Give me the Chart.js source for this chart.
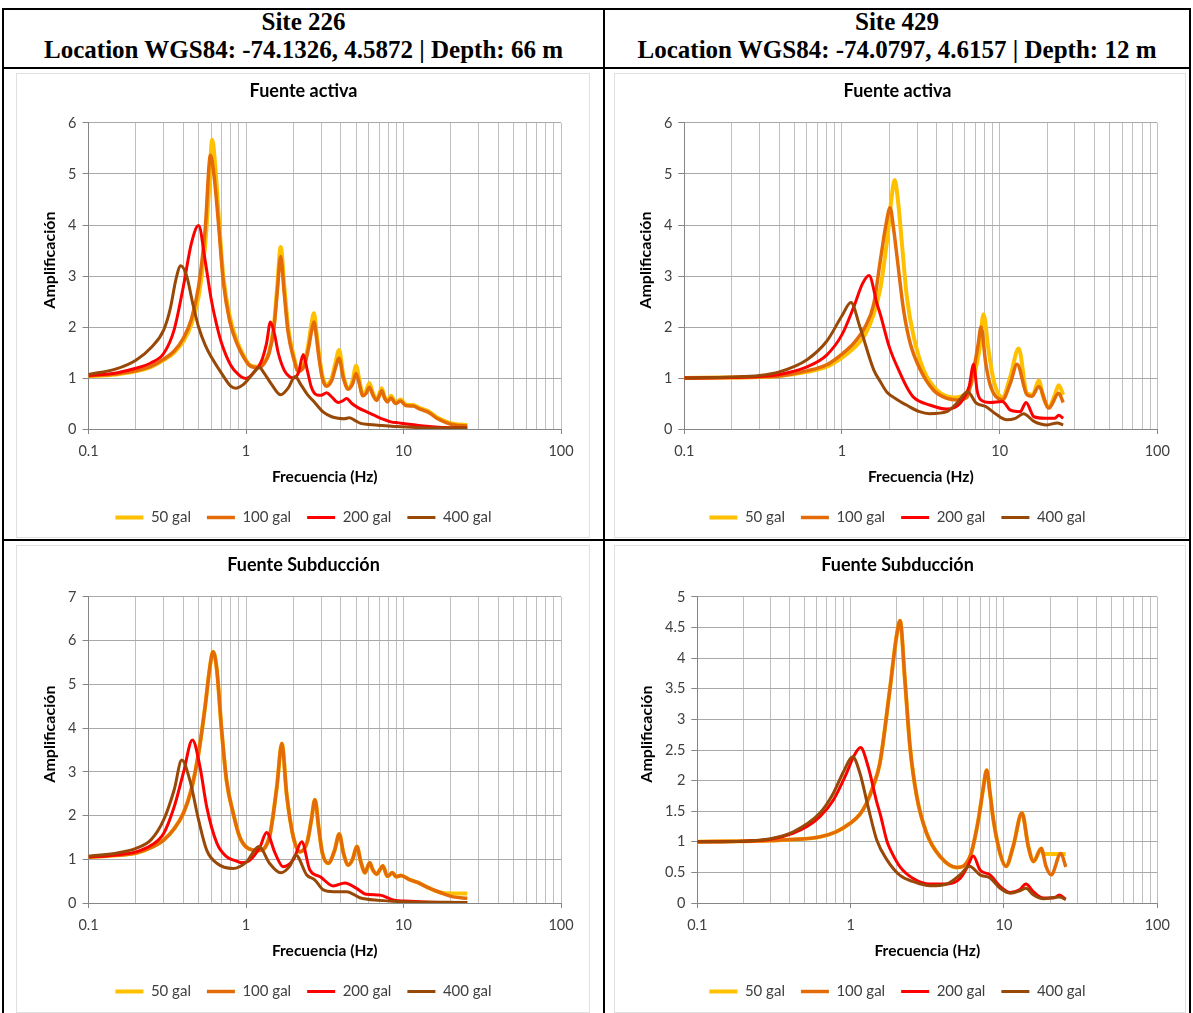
<!DOCTYPE html>
<html>
<head>
<meta charset="utf-8">
<script src="https://cdn.jsdelivr.net/npm/chart.js@4.4.1/dist/chart.umd.min.js"></script>
<style>
  html, body { margin: 0; padding: 0; background: #fff; }
  body { width: 1193px; height: 1013px; position: relative; overflow: hidden; }
  .rule { position: absolute; background: #000; }
  .head { position: absolute; top: 7.5px; height: 56px; font: bold 25px "Liberation Serif", "Times New Roman", serif;
          line-height: 28px; text-align: center; color: #000; white-space: nowrap; }
  .frame { position: absolute; border: 1px solid #e0e0e0; box-sizing: border-box; }
  canvas { position: absolute; }
</style>
</head>
<body>
<div class="rule" style="left:2px;top:8px;width:1189px;height:2px"></div>
<div class="rule" style="left:2px;top:8px;width:2px;height:1005px"></div>
<div class="rule" style="left:1189px;top:8px;width:2px;height:1005px"></div>
<div class="rule" style="left:603px;top:8px;width:2px;height:1005px"></div>
<div class="rule" style="left:2px;top:67px;width:1189px;height:2px"></div>
<div class="rule" style="left:2px;top:539px;width:1189px;height:2px"></div>

<div class="head" style="left:4px;width:599px">Site 226<br>Location WGS84: -74.1326, 4.5872 | Depth: 66 m</div>
<div class="head" style="left:605px;width:584px">Site 429<br>Location WGS84: -74.0797, 4.6157 | Depth: 12 m</div>

<div class="frame" style="left:16px;top:73px;width:574px;height:465px"></div>
<div class="frame" style="left:614px;top:73px;width:572px;height:465px"></div>
<div class="frame" style="left:16px;top:545px;width:574px;height:468px"></div>
<div class="frame" style="left:614px;top:545px;width:572px;height:468px"></div>

<canvas id="c226a" style="left:5px;top:70px" width="597" height="469"></canvas>
<canvas id="c429a" style="left:606px;top:70px" width="583" height="469"></canvas>
<canvas id="c226s" style="left:5px;top:543px" width="597" height="470"></canvas>
<canvas id="c429s" style="left:606px;top:543px" width="583" height="470"></canvas>

<script>
const seriesLabels = ["50 gal", "100 gal", "200 gal", "400 gal"];
const seriesColors = ["#FFC000", "#E36C09", "#FF0000", "#984807"];
const seriesWidths = [4, 3.5, 3, 3];
const gridFreqs = [0.1, 0.2, 0.3, 0.4, 0.5, 0.6, 0.7, 0.8, 0.9,
                   1, 2, 3, 4, 5, 6, 7, 8, 9,
                   10, 20, 30, 40, 50, 60, 70, 80, 90, 100];

// Site 226 - Fuente activa
const act226_f50 = [0.1, 0.15, 0.2, 0.25, 0.3, 0.35, 0.4, 0.45, 0.5, 0.55, 0.58, 0.61, 0.64, 0.67, 0.72, 0.79, 0.87, 0.95, 1.06, 1.2, 1.3, 1.4, 1.5, 1.58, 1.66, 1.75, 1.85, 2.0, 2.15, 2.35, 2.5, 2.6, 2.7, 2.8, 2.9, 3.05, 3.25, 3.5, 3.7, 3.9, 4.15, 4.46, 4.75, 5.0, 5.25, 5.5, 5.8, 6.07, 6.4, 6.76, 7.0, 7.27, 7.6, 7.9, 8.33, 8.9, 9.6, 10.3, 11.5, 12.5, 13.5, 14.7, 16.5, 18.8, 21, 25.4];
const act226_a50 = [1.03, 1.07, 1.13, 1.22, 1.35, 1.5, 1.72, 2.05, 2.6, 3.6, 4.6, 5.67, 5.1, 4.2, 2.95, 2.2, 1.75, 1.48, 1.25, 1.22, 1.3, 1.5, 2.0, 2.8, 3.57, 2.8, 2.0, 1.45, 1.15, 1.3, 1.7, 2.05, 2.27, 1.9, 1.5, 1.05, 0.87, 1.0, 1.3, 1.55, 1.05, 0.8, 0.95, 1.24, 0.95, 0.68, 0.75, 0.9, 0.7, 0.58, 0.68, 0.8, 0.62, 0.55, 0.65, 0.52, 0.58, 0.48, 0.47, 0.42, 0.38, 0.33, 0.22, 0.14, 0.1, 0.08];
const act226_f100 = [0.1, 0.15, 0.2, 0.25, 0.3, 0.35, 0.4, 0.45, 0.5, 0.55, 0.595, 0.63, 0.67, 0.72, 0.79, 0.87, 0.95, 1.06, 1.2, 1.3, 1.4, 1.5, 1.58, 1.66, 1.75, 1.85, 2.0, 2.15, 2.35, 2.5, 2.6, 2.7, 2.8, 2.9, 3.05, 3.25, 3.5, 3.7, 3.89, 4.15, 4.46, 4.75, 5.0, 5.25, 5.5, 5.8, 6.07, 6.4, 6.76, 7.0, 7.27, 7.6, 7.9, 8.33, 8.9, 9.6, 10.3, 11.5, 12.5, 13.5, 14.7, 16.5, 18.8, 21, 25.4];
const act226_a100 = [1.04, 1.08, 1.14, 1.23, 1.37, 1.53, 1.78, 2.15, 2.8, 3.9, 5.37, 4.9, 4.0, 2.85, 2.1, 1.7, 1.45, 1.24, 1.2, 1.28, 1.48, 1.95, 2.7, 3.38, 2.65, 1.9, 1.4, 1.13, 1.25, 1.6, 1.9, 2.1, 1.8, 1.42, 1.0, 0.84, 0.95, 1.2, 1.39, 1.0, 0.78, 0.88, 1.09, 0.88, 0.65, 0.7, 0.82, 0.66, 0.56, 0.64, 0.75, 0.6, 0.53, 0.61, 0.5, 0.55, 0.46, 0.45, 0.4, 0.36, 0.31, 0.2, 0.12, 0.08, 0.06];
const act226_f200 = [0.1, 0.15, 0.2, 0.25, 0.3, 0.35, 0.4, 0.45, 0.5, 0.55, 0.6, 0.65, 0.7, 0.8, 0.9, 1.0, 1.15, 1.25, 1.35, 1.43, 1.52, 1.6, 1.75, 1.9, 2.0, 2.15, 2.31, 2.45, 2.6, 2.81, 3.0, 3.25, 3.5, 3.85, 4.1, 4.35, 4.7, 5.2, 5.8, 6.5, 7.3, 8.3, 9.3, 10.5, 12.5, 14.7, 18, 25.4];
const act226_a200 = [1.05, 1.1, 1.19, 1.3, 1.48, 1.95, 2.79, 3.64, 3.99, 3.31, 2.56, 2.05, 1.68, 1.25, 1.06, 0.99, 1.15, 1.32, 1.68, 2.1, 1.85, 1.5, 1.15, 1.02, 1.0, 1.1, 1.46, 1.15, 0.82, 0.67, 0.66, 0.71, 0.63, 0.52, 0.55, 0.6, 0.5, 0.41, 0.34, 0.27, 0.2, 0.14, 0.12, 0.1, 0.07, 0.05, 0.03, 0.02];
const act226_f400 = [0.1, 0.15, 0.2, 0.25, 0.3, 0.33, 0.36, 0.385, 0.42, 0.46, 0.5, 0.55, 0.6, 0.7, 0.8, 0.86, 0.95, 1.05, 1.15, 1.215, 1.3, 1.45, 1.66, 1.85, 2.05, 2.25, 2.45, 2.73, 3.1, 3.5, 3.84, 4.2, 4.53, 4.9, 5.35, 6.0, 7.3, 9, 12, 16, 25.4];
const act226_a400 = [1.07, 1.18, 1.35, 1.6, 1.94, 2.35, 2.95, 3.2, 3.0, 2.45, 2.0, 1.65, 1.42, 1.09, 0.84, 0.8, 0.86, 1.0, 1.15, 1.21, 1.1, 0.88, 0.67, 0.8, 1.03, 0.85, 0.68, 0.52, 0.33, 0.24, 0.21, 0.2, 0.22, 0.17, 0.11, 0.09, 0.07, 0.05, 0.03, 0.02, 0.02];

// Site 429 - Fuente activa
const act429_f50 = [0.1, 0.2, 0.3, 0.4, 0.6, 0.8, 1.0, 1.2, 1.4, 1.59, 1.75, 1.84, 1.95, 2.04, 2.16, 2.28, 2.4, 2.58, 2.85, 3.29, 4.0, 5.1, 5.9, 6.3, 6.84, 7.4, 7.9, 8.5, 9.17, 10.4, 11.7, 13.2, 14.9, 16.2, 17.7, 19, 20.5, 22.3, 23.7, 25.3];
const act429_a50 = [1.0, 1.01, 1.02, 1.04, 1.12, 1.22, 1.4, 1.6, 1.85, 2.25, 2.75, 3.2, 3.8, 4.4, 4.88, 4.4, 3.64, 2.59, 1.81, 1.16, 0.76, 0.62, 0.66, 0.75, 1.03, 1.5, 2.25, 1.55, 0.95, 0.62, 1.03, 1.58, 0.7, 0.67, 0.95, 0.6, 0.44, 0.65, 0.86, 0.67];
const act429_f100 = [0.1, 0.2, 0.3, 0.4, 0.6, 0.8, 1.0, 1.2, 1.4, 1.59, 1.75, 1.9, 2.02, 2.13, 2.23, 2.46, 2.71, 3.14, 3.81, 4.63, 5.37, 6.2, 6.84, 7.3, 7.62, 8.16, 8.8, 10.4, 11.7, 12.9, 14.9, 16.0, 17.7, 20.5, 23.7, 25.3];
const act429_a100 = [1.0, 1.01, 1.02, 1.04, 1.14, 1.26, 1.47, 1.7, 2.0, 2.45, 3.3, 4.0, 4.34, 3.9, 3.4, 2.33, 1.68, 1.16, 0.76, 0.6, 0.57, 0.62, 1.16, 1.65, 2.0, 1.29, 0.82, 0.57, 0.9, 1.27, 0.67, 0.64, 0.83, 0.41, 0.7, 0.52];
const act429_f200 = [0.1, 0.2, 0.3, 0.4, 0.6, 0.8, 1.0, 1.19, 1.35, 1.485, 1.67, 1.75, 2.0, 2.34, 2.6, 2.85, 3.6, 4.63, 5.6, 6.4, 6.84, 7.2, 7.6, 8.7, 10.4, 11.7, 13.5, 14.7, 16.5, 19.4, 22.4, 23.7, 25.3];
const act429_a200 = [1.0, 1.01, 1.03, 1.07, 1.22, 1.45, 1.85, 2.4, 2.85, 3.01, 2.45, 2.25, 1.6, 1.09, 0.8, 0.62, 0.47, 0.39, 0.5, 0.83, 1.27, 0.75, 0.57, 0.52, 0.54, 0.37, 0.34, 0.52, 0.24, 0.21, 0.21, 0.27, 0.21];
const act429_f400 = [0.1, 0.2, 0.3, 0.4, 0.6, 0.8, 1.0, 1.14, 1.3, 1.59, 1.75, 1.93, 2.23, 2.6, 3.1, 3.6, 4.63, 5.37, 6.27, 7.1, 8.16, 9.4, 11.1, 12.6, 14.2, 16.5, 20, 23.2, 25.3];
const act429_a400 = [1.0, 1.02, 1.05, 1.12, 1.36, 1.72, 2.22, 2.48, 2.0, 1.16, 0.93, 0.72, 0.58, 0.46, 0.34, 0.3, 0.34, 0.51, 0.73, 0.51, 0.44, 0.3, 0.18, 0.21, 0.3, 0.15, 0.08, 0.12, 0.08];

// Site 226 - Fuente Subducción
const sub226_f50 = [0.1, 0.15, 0.2, 0.25, 0.3, 0.35, 0.4, 0.45, 0.5, 0.55, 0.59, 0.618, 0.653, 0.7, 0.752, 0.83, 0.91, 1.03, 1.2, 1.41, 1.57, 1.69, 1.81, 2.0, 2.2, 2.45, 2.6, 2.74, 2.9, 3.05, 3.33, 3.65, 3.91, 4.15, 4.46, 4.75, 5.06, 5.35, 5.69, 6.1, 6.4, 6.76, 7.05, 7.39, 7.9, 8.5, 9.0, 9.6, 11.0, 12.3, 14.0, 17.1, 20.7, 25.4];
const sub226_a50 = [1.05, 1.09, 1.14, 1.27, 1.44, 1.7, 2.05, 2.6, 3.43, 4.49, 5.4, 5.75, 5.33, 3.96, 2.81, 2.05, 1.52, 1.25, 1.2, 1.52, 2.66, 3.65, 2.5, 1.5, 1.17, 1.4, 1.9, 2.36, 1.7, 1.15, 0.91, 1.2, 1.58, 1.15, 0.87, 1.0, 1.29, 0.95, 0.69, 0.92, 0.75, 0.66, 0.75, 0.85, 0.61, 0.69, 0.6, 0.63, 0.53, 0.47, 0.37, 0.24, 0.22, 0.22];
const sub226_f100 = sub226_f50;
const sub226_a100 = [1.05, 1.09, 1.14, 1.27, 1.44, 1.7, 2.05, 2.6, 3.43, 4.49, 5.4, 5.75, 5.33, 3.96, 2.81, 2.05, 1.52, 1.25, 1.2, 1.52, 2.66, 3.65, 2.5, 1.5, 1.17, 1.4, 1.9, 2.36, 1.7, 1.15, 0.91, 1.2, 1.58, 1.15, 0.87, 1.0, 1.29, 0.95, 0.69, 0.92, 0.75, 0.66, 0.75, 0.85, 0.61, 0.69, 0.6, 0.63, 0.53, 0.47, 0.37, 0.24, 0.14, 0.11];
const sub226_f200 = [0.1, 0.15, 0.2, 0.25, 0.3, 0.35, 0.4, 0.457, 0.51, 0.563, 0.653, 0.752, 0.87, 0.94, 1.06, 1.23, 1.35, 1.53, 1.72, 2.0, 2.26, 2.54, 2.96, 3.58, 4.25, 5.0, 5.8, 7.1, 8.6, 11, 15, 25.4];
const sub226_a200 = [1.05, 1.1, 1.17, 1.32, 1.59, 2.2, 2.97, 3.73, 3.12, 2.2, 1.37, 1.06, 0.96, 0.92, 0.98, 1.29, 1.61, 1.14, 0.83, 0.99, 1.4, 0.76, 0.6, 0.39, 0.46, 0.34, 0.2, 0.18, 0.07, 0.04, 0.02, 0.01];
const sub226_f400 = [0.1, 0.15, 0.2, 0.25, 0.3, 0.35, 0.391, 0.44, 0.5, 0.563, 0.653, 0.83, 1.0, 1.21, 1.41, 1.66, 1.9, 2.07, 2.43, 2.73, 3.1, 3.6, 4.36, 5.28, 7, 10, 25.4];
const sub226_a400 = [1.07, 1.14, 1.25, 1.45, 1.9, 2.59, 3.27, 2.81, 1.9, 1.21, 0.91, 0.79, 0.93, 1.29, 0.91, 0.69, 0.85, 1.1, 0.64, 0.53, 0.3, 0.26, 0.26, 0.12, 0.06, 0.03, 0.01];

// Site 429 - Fuente Subducción
const sub429_f50 = [0.1, 0.2, 0.3, 0.45, 0.63, 0.8, 0.99, 1.15, 1.27, 1.4, 1.55, 1.8, 1.99, 2.1, 2.26, 2.44, 2.7, 3.13, 3.83, 4.92, 6.01, 6.81, 7.3, 7.72, 8.1, 8.53, 9.44, 10.3, 11.5, 13.1, 14.4, 15.6, 17.5, 18.0, 25.3];
const sub429_a50 = [1.0, 1.01, 1.02, 1.04, 1.08, 1.16, 1.3, 1.45, 1.63, 1.9, 2.28, 3.48, 4.35, 4.61, 3.64, 2.55, 1.74, 1.14, 0.76, 0.58, 0.76, 1.36, 1.85, 2.17, 1.8, 1.36, 0.81, 0.6, 0.93, 1.47, 0.93, 0.68, 0.89, 0.8, 0.8];
const sub429_f100 = [0.1, 0.2, 0.3, 0.45, 0.63, 0.8, 0.99, 1.15, 1.27, 1.4, 1.55, 1.8, 1.99, 2.1, 2.26, 2.44, 2.7, 3.13, 3.83, 4.92, 6.01, 6.81, 7.3, 7.72, 8.1, 8.53, 9.44, 10.3, 11.5, 13.1, 14.4, 15.6, 17.5, 18.8, 20.3, 23.5, 25.3];
const sub429_a100 = [1.0, 1.01, 1.02, 1.04, 1.08, 1.16, 1.3, 1.45, 1.63, 1.9, 2.28, 3.48, 4.35, 4.61, 3.64, 2.55, 1.74, 1.14, 0.76, 0.58, 0.76, 1.36, 1.85, 2.17, 1.8, 1.36, 0.81, 0.6, 0.93, 1.47, 0.93, 0.68, 0.89, 0.6, 0.46, 0.81, 0.59];
const sub429_f200 = [0.1, 0.2, 0.3, 0.42, 0.52, 0.63, 0.77, 0.94, 1.05, 1.16, 1.3, 1.48, 1.56, 1.73, 1.81, 2.1, 2.56, 3.3, 4.24, 5.17, 5.77, 6.31, 6.98, 8.11, 9.44, 11.0, 12.7, 13.9, 15.6, 18.1, 21, 23, 25.3];
const sub429_a200 = [1.0, 1.01, 1.04, 1.14, 1.25, 1.41, 1.68, 2.12, 2.4, 2.54, 2.23, 1.65, 1.45, 1.0, 0.88, 0.59, 0.4, 0.31, 0.31, 0.4, 0.59, 0.77, 0.54, 0.46, 0.27, 0.17, 0.22, 0.31, 0.18, 0.08, 0.08, 0.13, 0.06];
const sub429_f400 = [0.1, 0.2, 0.3, 0.42, 0.63, 0.77, 0.9, 1.03, 1.15, 1.3, 1.48, 1.73, 2.1, 2.56, 3.3, 4.24, 5.17, 5.95, 6.98, 8.11, 9.44, 11.0, 12.7, 13.9, 15.6, 18.1, 23, 25.3];
const sub429_a400 = [1.0, 1.01, 1.05, 1.16, 1.47, 1.79, 2.15, 2.39, 2.12, 1.57, 1.03, 0.7, 0.45, 0.35, 0.28, 0.31, 0.46, 0.6, 0.46, 0.41, 0.24, 0.16, 0.2, 0.24, 0.13, 0.07, 0.1, 0.06];

const FONT = 'Lato, "Noto Sans", sans-serif';
// leading em-spaces lift the rotated axis title, as in the original layout
const yTitleText = "\u2003\u2003  Amplificación";

function isDecade(v) {
  const e = Math.log10(v);
  return Math.abs(e - Math.round(e)) < 1e-6;
}

function makeChart(id, opts) {
  const datasets = opts.series.map((s, i) => ({
    label: seriesLabels[i],
    data: s[0].map((f, k) => ({ x: f, y: s[1][k] })),
    borderColor: seriesColors[i],
    backgroundColor: seriesColors[i],
    borderWidth: seriesWidths[i],
    pointRadius: 0,
    cubicInterpolationMode: "monotone",
    fill: false,
    order: 3 - i
  }));

  return new Chart(document.getElementById(id), {
    type: "line",
    data: { datasets },
    options: {
      responsive: false,
      animation: false,
      layout: { padding: { top: opts.topPad, bottom: 4, left: 0, right: 0 } },
      plugins: {
        title: {
          display: true,
          text: opts.title,
          color: "#000",
          font: { family: FONT, size: 18, weight: "bold", lineHeight: 1.2 },
          padding: { top: 0, bottom: 21 }
        },
        legend: {
          position: "bottom",
          labels: {
            usePointStyle: true,
            pointStyle: "line",
            pointStyleWidth: 28,
            padding: 16,
            color: "#404040",
            font: { family: FONT, size: 15 },
            sort: (a, b) => a.datasetIndex - b.datasetIndex
          }
        },
        tooltip: { enabled: false }
      },
      scales: {
        x: {
          type: "logarithmic",
          min: 0.1,
          max: 100,
          afterBuildTicks: s => { s.ticks = gridFreqs.map(v => ({ value: v })); },
          afterFit: s => { s.height = 65; },
          grid: {
            color: "#bfbfbf",
            tickLength: 5,
            tickColor: c => (c.tick && isDecade(c.tick.value)) ? "#868686" : "rgba(0,0,0,0)"
          },
          border: { color: "#868686" },
          ticks: {
            autoSkip: false,
            maxRotation: 0,
            padding: 9,
            color: "#404040",
            font: { family: FONT, size: 14.5 },
            callback: v => isDecade(v) ? String(v) : ""
          },
          title: {
            display: true,
            text: "Frecuencia (Hz)",
            color: "#000",
            font: { family: FONT, size: 15.5, weight: "bold" },
            padding: { top: 0, bottom: 8 }
          }
        },
        y: {
          min: 0,
          max: opts.yMax,
          afterFit: s => { s.width = opts.yWidth; },
          grid: { color: "#a9a9a9", tickLength: 6, tickColor: "#868686" },
          border: { color: "#868686" },
          ticks: {
            stepSize: opts.yStep,
            padding: 6,
            color: "#404040",
            font: { family: FONT, size: 14.5 },
            callback: v => String(Math.round(v * 10) / 10)
          },
          title: {
            display: true,
            text: yTitleText,
            color: "#000",
            font: { family: FONT, size: 16, weight: "bold" },
            padding: { top: opts.yTitlePad, bottom: 0 }
          }
        },
        yRight: {
          position: "right",
          display: true,
          afterFit: s => { s.width = opts.rightGap; },
          grid: { display: false },
          ticks: { display: false },
          border: { display: false }
        }
      }
    }
  });
}

makeChart("c226a", {
  title: "Fuente activa", yMax: 6, yStep: 1, yWidth: 83.5, rightGap: 41, topPad: 10.4, yTitlePad: 35,
  series: [[act226_f50, act226_a50], [act226_f100, act226_a100], [act226_f200, act226_a200], [act226_f400, act226_a400]]
});
makeChart("c429a", {
  title: "Fuente activa", yMax: 6, yStep: 1, yWidth: 78.3, rightGap: 31.7, topPad: 10.4, yTitlePad: 30,
  series: [[act429_f50, act429_a50], [act429_f100, act429_a100], [act429_f200, act429_a200], [act429_f400, act429_a400]]
});
makeChart("c226s", {
  title: "Fuente Subducción", yMax: 7, yStep: 1, yWidth: 83.5, rightGap: 41, topPad: 11.4, yTitlePad: 35,
  series: [[sub226_f50, sub226_a50], [sub226_f100, sub226_a100], [sub226_f200, sub226_a200], [sub226_f400, sub226_a400]]
});
makeChart("c429s", {
  title: "Fuente Subducción", yMax: 5, yStep: 0.5, yWidth: 91.3, rightGap: 31.7, topPad: 11.4, yTitlePad: 31,
  series: [[sub429_f50, sub429_a50], [sub429_f100, sub429_a100], [sub429_f200, sub429_a200], [sub429_f400, sub429_a400]]
});
</script>
</body>
</html>
